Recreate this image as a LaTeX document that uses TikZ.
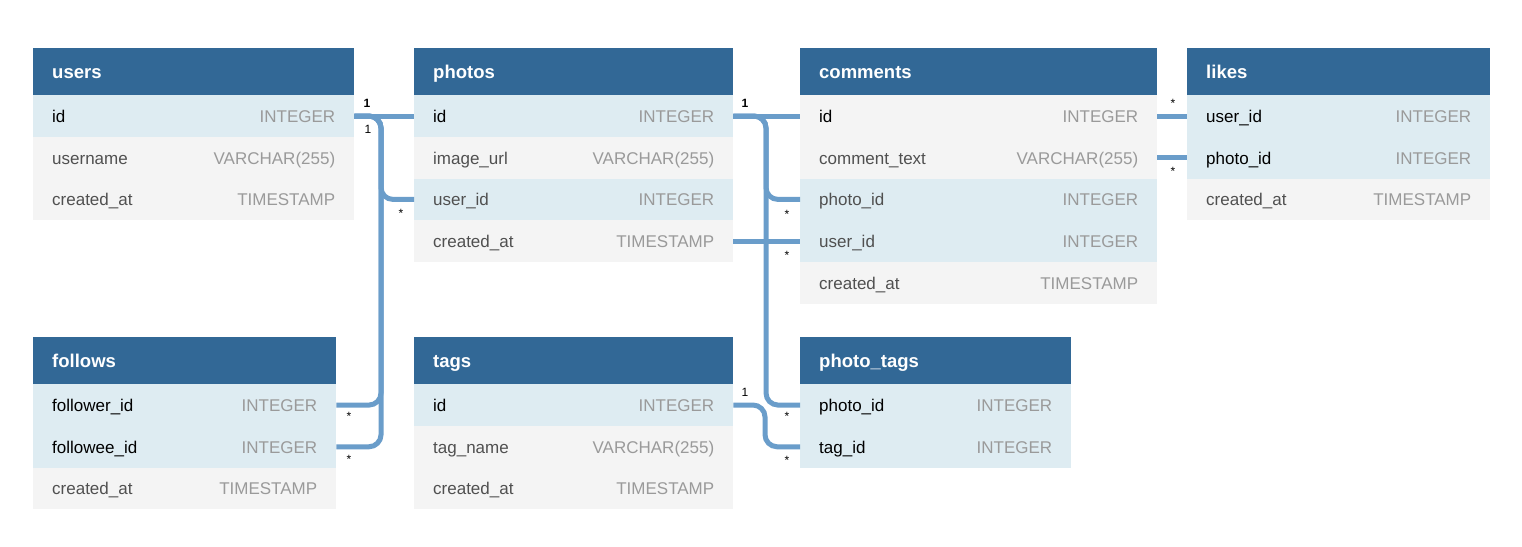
\documentclass[tikz,border=0pt]{standalone}
\usepackage{fontspec}
\setmainfont{Liberation Sans}
\usetikzlibrary{positioning}
\definecolor{hdrblue}{RGB}{50,104,150}
\definecolor{keyblue}{RGB}{222,236,242}
\definecolor{rowgrey}{RGB}{244,244,244}
\definecolor{typegrey}{RGB}{154,154,154}
\definecolor{namegrey}{RGB}{80,80,80}
\definecolor{linkblue}{RGB}{106,157,202}
\tikzset{
  hdr/.style={anchor=north west, fill=hdrblue, text=white, font=\fontsize{18.5}{20}\selectfont\bfseries,
    minimum height=47pt, inner xsep=19pt, inner ysep=0pt, align=left, text height=15pt, text depth=2pt},
  cell/.style={anchor=north west, font=\fontsize{17}{19}\selectfont,
    minimum height=41.7pt, inner xsep=19pt, inner ysep=0pt, align=left, text height=15pt, text depth=2pt},
  pk/.style={cell, fill=keyblue, text=black},
  fk/.style={cell, fill=keyblue, text=namegrey},
  pkg/.style={cell, fill=rowgrey, text=black},
  plain/.style={cell, fill=rowgrey, text=namegrey},
  link/.style={draw=linkblue, line width=5pt, rounded corners=12pt},
  card/.style={font=\fontsize{12}{14}\selectfont, inner sep=0pt, text=black}
}
\newcommand{\typ}[1]{\hfill\textcolor{typegrey}{#1}}

\begin{document}
\begin{tikzpicture}[x=1pt,y=-1pt]
\useasboundingbox[fill=white] (0,0) rectangle (1522,546);

% users
\node[hdr, text width=283pt] (users) at (33,48) {users};
\foreach \nm/\ty/\st [count=\i] in {id/INTEGER/pk, username/VARCHAR(255)/plain, created\_at/TIMESTAMP/plain}
  \node[\st, text width=283pt] (users-\i) at (33,{95+41.7*(\i-1)}) {\nm\typ{\ty}};

% photos
\node[hdr, text width=281pt] (photos) at (414,48) {photos};
\foreach \nm/\ty/\st [count=\i] in {id/INTEGER/pk, image\_url/VARCHAR(255)/plain, user\_id/INTEGER/fk, created\_at/TIMESTAMP/plain}
  \node[\st, text width=281pt] (photos-\i) at (414,{95+41.7*(\i-1)}) {\nm\typ{\ty}};

% comments
\node[hdr, text width=319pt] (comments) at (800,48) {comments};
\foreach \nm/\ty/\st [count=\i] in {id/INTEGER/pkg, comment\_text/VARCHAR(255)/plain, photo\_id/INTEGER/fk, user\_id/INTEGER/fk, created\_at/TIMESTAMP/plain}
  \node[\st, text width=319pt] (comments-\i) at (800,{95+41.7*(\i-1)}) {\nm\typ{\ty}};

% likes
\node[hdr, text width=265pt] (likes) at (1187,48) {likes};
\foreach \nm/\ty/\st [count=\i] in {user\_id/INTEGER/pk, photo\_id/INTEGER/pk, created\_at/TIMESTAMP/plain}
  \node[\st, text width=265pt] (likes-\i) at (1187,{95+41.7*(\i-1)}) {\nm\typ{\ty}};

% follows
\node[hdr, text width=265pt] (follows) at (33,337) {follows};
\foreach \nm/\ty/\st [count=\i] in {follower\_id/INTEGER/pk, followee\_id/INTEGER/pk, created\_at/TIMESTAMP/plain}
  \node[\st, text width=265pt] (follows-\i) at (33,{384+41.7*(\i-1)}) {\nm\typ{\ty}};

% tags
\node[hdr, text width=281pt] (tags) at (414,337) {tags};
\foreach \nm/\ty/\st [count=\i] in {id/INTEGER/pk, tag\_name/VARCHAR(255)/plain, created\_at/TIMESTAMP/plain}
  \node[\st, text width=281pt] (tags-\i) at (414,{384+41.7*(\i-1)}) {\nm\typ{\ty}};

% photo_tags
\node[hdr, text width=233pt] (ptags) at (800,337) {photo\_tags};
\foreach \nm/\ty/\st [count=\i] in {photo\_id/INTEGER/pk, tag\_id/INTEGER/pk}
  \node[\st, text width=233pt] (ptags-\i) at (800,{384+41.7*(\i-1)}) {\nm\typ{\ty}};

% links
\coordinate (ubus) at (381,116);
\coordinate (pbus) at (766,116);
\coordinate (tbus) at (765,405);

\draw[link] (users-1.east) -- (photos-1.west);
\foreach \to in {photos-3.west, follows-1.east, follows-2.east}
  \draw[link] (users-1.east) -- (ubus) |- (\to);

\draw[link] (photos-1.east) -- (comments-1.west);
\foreach \to in {comments-3.west, ptags-1.west}
  \draw[link] (photos-1.east) -- (pbus) |- (\to);
\draw[link] (photos-4.east) -- (comments-4.west);
\draw[link] (tags-1.east) -- (tbus) |- (ptags-2.west);

\draw[link] (comments-1.east) -- (likes-1.west);
\draw[link] (comments-2.east) -- (likes-2.west);

% cardinalities
\node[card] (u1) at (367,103) {\textbf{1}};
\node[card] (u2) at (368,129) {1};
\node[card] (pu) at (401,213) {*};
\node[card] (f1) at (349,416) {*};
\node[card] (f2) at (349,459) {*};
\node[card] (p1) at (745,103) {\textbf{1}};
\node[card] (cp) at (787,214) {*};
\node[card] (cu) at (787,255) {*};
\node[card] (tp) at (787,416) {*};
\node[card] (t1) at (745,392) {1};
\node[card] (tt) at (787,460) {*};
\node[card] (lu) at (1173,103) {*};
\node[card] (lp) at (1173,171) {*};
\end{tikzpicture}
\end{document}
